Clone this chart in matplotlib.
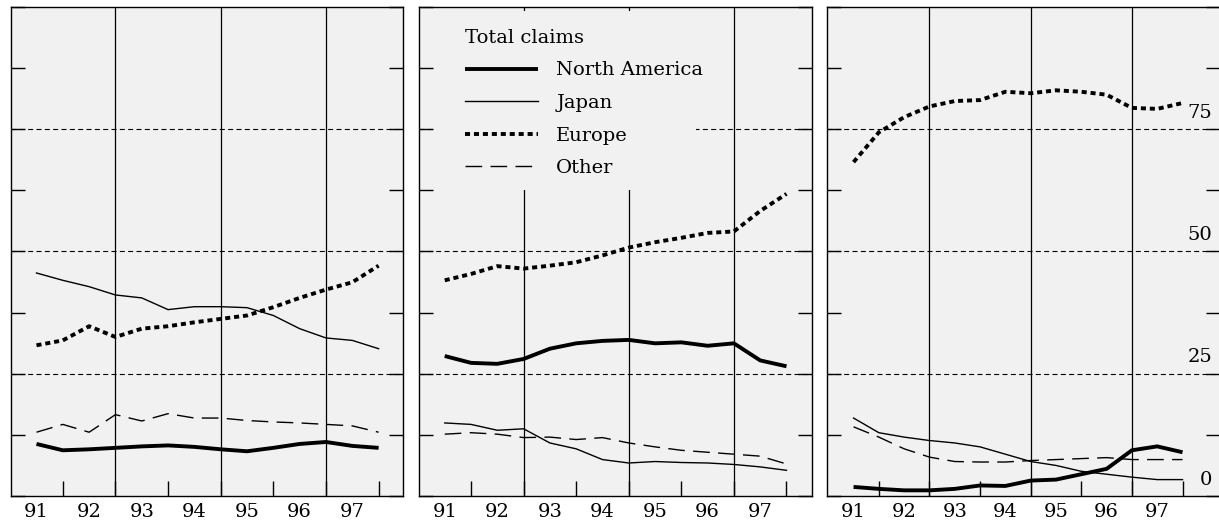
#!/usr/bin/env python3
"""
Total claims by region, three panels, 1991-97 half-yearly.
Writes out.png.
"""

import matplotlib
matplotlib.use("Agg")  # no display in the sandbox
import matplotlib.pyplot as plt
from matplotlib.patches import Rectangle
from matplotlib.transforms import blended_transform_factory

plt.rcParams["font.family"] = ["DejaVu Serif"]

BG = "#f1f1f1"
FONT_SIZE = 14

# half-year steps, 91.0 .. 97.5
YEARS = [91.0, 91.5, 92.0, 92.5, 93.0, 93.5, 94.0,
         94.5, 95.0, 95.5, 96.0, 96.5, 97.0, 97.5]
YEAR_TICKS = [91, 92, 93, 94, 95, 96, 97]
YEAR_LABELS = ["91", "92", "93", "94", "95", "96", "97"]
HALF_TICKS = [91.5, 92.5, 93.5, 94.5, 95.5, 96.5, 97.5]
DIVIDERS = [92.5, 94.5, 96.5]
GRID_LEVELS = [25, 50, 75]
VALUE_LABELS = [0, 25, 50, 75]

SERIES = ["North America", "Japan", "Europe", "Other"]

# left panel
LEFT_NORTH_AMERICA = [10.6, 9.3, 9.5, 9.8, 10.1, 10.3, 10.0,
                      9.5, 9.1, 9.8, 10.6, 11.0, 10.2, 9.8]
LEFT_JAPAN = [45.6, 44.1, 42.8, 41.1, 40.5, 38.1, 38.7,
              38.7, 38.5, 36.9, 34.2, 32.3, 31.8, 30.1]
LEFT_EUROPE = [30.8, 31.8, 34.7, 32.5, 34.2, 34.7, 35.5,
               36.2, 36.9, 38.6, 40.5, 42.2, 43.7, 47.1]
LEFT_OTHER = [13.0, 14.6, 13.0, 16.6, 15.3, 16.8, 15.9,
              15.9, 15.4, 15.1, 14.9, 14.6, 14.3, 13.0]

# middle panel
MID_NORTH_AMERICA = [28.6, 27.2, 27.0, 28.0, 30.1, 31.2, 31.7,
                     31.9, 31.2, 31.4, 30.7, 31.2, 27.7, 26.5]
MID_JAPAN = [14.9, 14.6, 13.4, 13.7, 10.8, 9.6, 7.4,
             6.7, 7.0, 6.8, 6.7, 6.4, 5.9, 5.2]
MID_EUROPE = [44.1, 45.4, 47.0, 46.5, 47.1, 47.8, 49.2,
              50.8, 51.9, 52.8, 53.8, 54.1, 58.3, 61.8]
MID_OTHER = [12.6, 12.9, 12.6, 11.9, 12.0, 11.5, 11.9,
             10.8, 10.0, 9.3, 8.9, 8.5, 8.1, 6.5]

# right panel
RIGHT_NORTH_AMERICA = [1.8, 1.4, 1.1, 1.1, 1.4, 2.1, 2.0,
                       3.1, 3.3, 4.4, 5.5, 9.3, 10.1, 8.9]
RIGHT_JAPAN = [15.9, 12.9, 12.0, 11.3, 10.8, 10.0, 8.5,
               7.0, 6.2, 5.0, 4.4, 3.8, 3.3, 3.3]
RIGHT_EUROPE = [68.3, 74.4, 77.5, 79.7, 80.8, 81.0, 82.7,
                82.4, 83.0, 82.7, 82.1, 79.4, 79.2, 80.4]
RIGHT_OTHER = [14.1, 12.0, 9.6, 7.9, 7.0, 6.9, 6.9,
               7.2, 7.4, 7.6, 7.8, 7.4, 7.4, 7.4]

STYLES = {
    "North America": dict(color="black", linewidth=2.8, linestyle="-",
                          solid_capstyle="butt"),
    "Japan": dict(color="black", linewidth=1.0, linestyle="-"),
    "Europe": dict(color="black", linewidth=2.8, linestyle=(0, (1.3, 1.0)),
                   dash_capstyle="butt"),
    "Other": dict(color="black", linewidth=1.0, linestyle=(0, (12, 6))),
}


def style_axes(ax, xlim):
    ax.set_facecolor(BG)
    ax.set_xlim(*xlim)
    ax.set_ylim(0, 100)

    for sp in ax.spines.values():
        sp.set_linewidth(1.0)

    ax.set_yticks([i * 12.5 for i in range(9)])
    ax.tick_params(axis="y", direction="in", length=10, width=1.0,
                   left=True, right=True, labelleft=False)

    ax.set_xticks(YEAR_TICKS, YEAR_LABELS)
    ax.set_xticks(HALF_TICKS, minor=True)
    ax.tick_params(axis="x", which="major", length=0, pad=5,
                   labelsize=FONT_SIZE)
    ax.tick_params(axis="x", which="minor", direction="in",
                   length=10.8, width=1.0)

    for lvl in GRID_LEVELS:
        ax.axhline(lvl, color="black", linewidth=0.8,
                   linestyle=(0, (4.5, 3)), zorder=1)
    for x in DIVIDERS:
        ax.axvline(x, color="black", linewidth=0.9, zorder=1)


def plot_panel(ax, values):
    handles = []
    for name, ys in zip(SERIES, values):
        line, = ax.plot(YEARS, ys, label=name, zorder=3, **STYLES[name])
        handles.append(line)
    return handles


fig = plt.figure(figsize=(12.19, 5.2), dpi=100)

bottom, height = 0.0467, 0.9393
ax_left = fig.add_axes([0.00878, bottom, 0.3221, height])
ax_mid = fig.add_axes([0.3437, bottom, 0.3222, height])
ax_right = fig.add_axes([0.6782, bottom, 0.3226, height])

style_axes(ax_left, (90.51, 97.97))
style_axes(ax_mid, (90.51, 97.98))
style_axes(ax_right, (90.47, 98.24))

plot_panel(ax_left, [LEFT_NORTH_AMERICA, LEFT_JAPAN, LEFT_EUROPE, LEFT_OTHER])
handles = plot_panel(ax_mid, [MID_NORTH_AMERICA, MID_JAPAN, MID_EUROPE, MID_OTHER])
plot_panel(ax_right, [RIGHT_NORTH_AMERICA, RIGHT_JAPAN, RIGHT_EUROPE, RIGHT_OTHER])

# legend sits on a patch of background colour that hides the grid behind it
ax_mid.add_patch(Rectangle((0.04, 0.625), 0.665, 0.368, transform=ax_mid.transAxes,
                           facecolor=BG, edgecolor="none", zorder=1.2))
leg = ax_mid.legend(handles=handles, title="Total claims", loc="upper left",
                    bbox_to_anchor=(0.117, 0.956), frameon=False,
                    alignment="left", borderpad=0, borderaxespad=0,
                    fontsize=FONT_SIZE, title_fontsize=FONT_SIZE,
                    handlelength=3.75, handletextpad=0.95, labelspacing=0.75)

# value labels inside the right panel
trans = blended_transform_factory(ax_right.transAxes, ax_right.transData)
for v in VALUE_LABELS:
    ax_right.text(0.981, v + 3.3, str(v), transform=trans, ha="right",
                  va="center", fontsize=FONT_SIZE)

fig.savefig("out.png", dpi=100, facecolor="white")
plt.close(fig)
